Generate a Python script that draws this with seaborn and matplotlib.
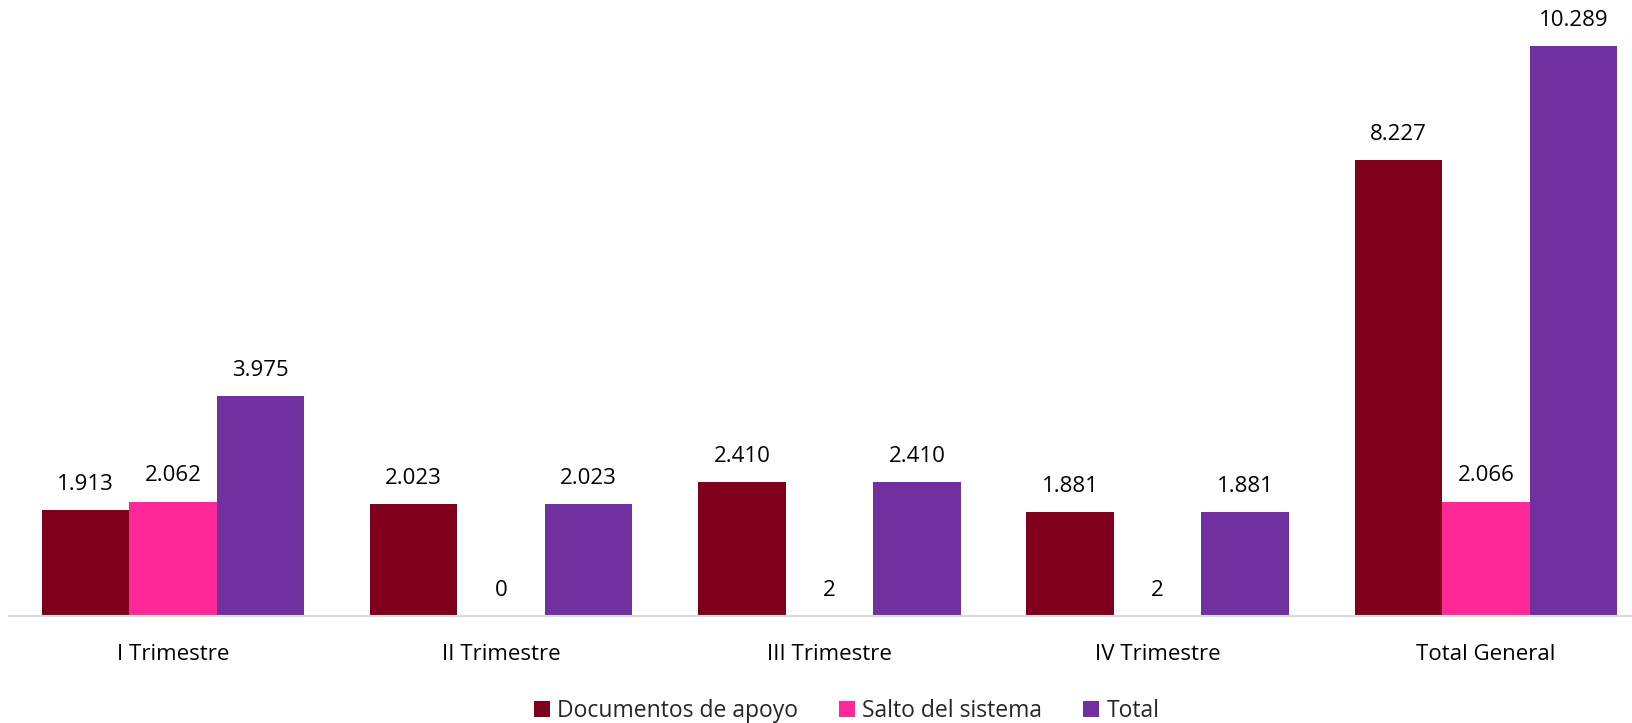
import numpy as np
import pandas as pd
import matplotlib
matplotlib.use("Agg")
import matplotlib.pyplot as plt
import seaborn as sns

# ========== DATA ==========
CATEGORIES = ["I Trimestre", "II Trimestre", "III Trimestre", "IV Trimestre", "Total General"]
DOCUMENTOS = [1913, 2023, 2410, 1881, 8227]
SALTO = [2062, 0, 2, 2, 2066]
TOTAL = [3975, 2023, 2410, 1881, 10289]
SERIES = ["Documentos de apoyo", "Salto del sistema", "Total"]
COLORS = ["#80001C", "#FF2896", "#7030A0"]

df = pd.DataFrame({
    "cat": CATEGORIES * 3,
    "serie": [SERIES[0]] * 5 + [SERIES[1]] * 5 + [SERIES[2]] * 5,
    "valor": DOCUMENTOS + SALTO + TOTAL,
})

sns.set_style("white")
plt.rcParams["font.family"] = ["Open Sans", "DejaVu Sans"]

fig = plt.figure(figsize=(16.33, 7.23), dpi=100)
ax = fig.add_axes([0.0054, 0.148, 1.005, 0.852])

sns.barplot(data=df, x="cat", y="valor", hue="serie", palette=COLORS,
            order=CATEGORIES, hue_order=SERIES, width=0.8, saturation=1,
            errorbar=None, linewidth=0, ax=ax)

def fmt(v):
    return f"{int(v):,}".replace(",", ".")

for cont in ax.containers:
    for bar in cont:
        h = bar.get_height()
        ax.annotate(fmt(h), (bar.get_x() + bar.get_width() / 2, h),
                    xytext=(0, 11), textcoords="offset points",
                    ha="center", va="bottom", fontsize=16, color="#000000")

ax.set_xlim(-0.5, 4.5)
ax.set_ylim(0, 11120)
ax.set_xlabel("")
ax.set_ylabel("")
ax.set_yticks([])
for s in ["top", "right", "left"]:
    ax.spines[s].set_visible(False)
ax.spines["bottom"].set_color("#D9D9D9")
ax.spines["bottom"].set_linewidth(1.5)
ax.tick_params(axis="x", length=0, labelsize=16, pad=20, colors="#000000")

ax.legend(loc="center", bbox_to_anchor=(0.5105, -0.155), ncol=3, frameon=False,
          fontsize=16.5, handlelength=0.7, handleheight=0.7, handletextpad=0.3,
          columnspacing=1.8)

fig.savefig("out.png", dpi=100)
